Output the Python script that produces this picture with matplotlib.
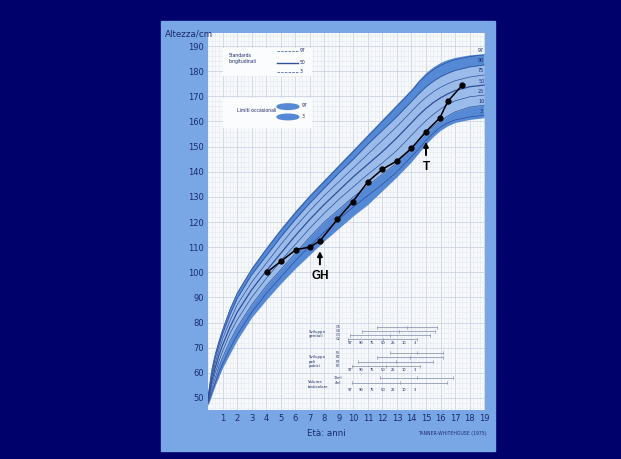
import matplotlib.pyplot as plt
import numpy as np
from matplotlib.patches import Rectangle, Ellipse

# Tanner-Whitehouse longitudinal height standards, boys (cm)
ages = [0.0, 0.25, 0.5, 0.75, 1, 1.5, 2, 3, 4, 5, 6, 7, 8, 9, 10, 11, 12,
        13, 13.5, 14, 14.5, 15, 15.5, 16, 16.5, 17, 18, 19]
occ_hi = [51, 62, 68.5, 73.5, 78, 86, 92.5, 102, 110, 117.5, 124.5, 131, 137,
          143, 149, 155, 161, 167, 170, 173, 176.5, 179.5, 181.8, 183.5,
          184.7, 185.5, 186.5, 187]
p97 = [50.5, 61, 67.5, 72.5, 77, 85, 91.5, 101, 109, 116.5, 123.5, 130, 136,
       142, 148, 154, 160, 166, 169, 172, 175.5, 178.3, 180.6, 182.3, 183.6,
       184.6, 185.8, 186.5]
p90 = [50, 59.5, 66, 71, 75.5, 83, 89.5, 99, 106.5, 114, 121, 127.5, 133.5,
       139.5, 145, 151, 156.5, 162, 165, 168, 171, 173.8, 176, 177.8, 179.2,
       180.3, 181.7, 182.5]
p75 = [49.5, 58, 64, 69, 73.5, 80.5, 87, 96, 103.5, 111, 118, 124.5, 130.5,
       136, 141.5, 147, 152.5, 158, 161, 164, 167, 169.6, 171.8, 173.6, 175,
       176.2, 177.7, 178.5]
p50 = [49, 56.5, 62, 67, 71, 78, 84, 93, 100.5, 107.5, 114.5, 121, 127,
       132.5, 138, 143, 148, 153.5, 156.5, 159.5, 162.5, 165.2, 167.5, 169.4,
       171, 172.3, 173.8, 174.5]
p25 = [48.5, 55, 60, 64.5, 68.5, 75.5, 81, 90, 97.5, 104.5, 111, 117.5, 123.5,
       129, 134, 139, 143.5, 148.5, 151.5, 154.5, 157.5, 160.3, 162.8, 165,
       166.8, 168.2, 169.8, 170.5]
p10 = [48, 53.5, 58, 62.5, 66, 72.5, 78, 87, 94.5, 101, 107.5, 114, 120,
       125, 130, 134.5, 139, 143.5, 146.5, 149.5, 152.5, 155.4, 158, 160.3,
       162.2, 163.8, 165.7, 166.5]
p3 = [47.5, 52, 56, 60, 63.5, 69.5, 75, 84, 91.5, 98, 104.5, 110.5, 116,
      121, 126, 130.5, 135, 140, 143, 146, 149, 152.5, 155.3, 157.8, 159.5,
      160.6, 161.8, 162.5]
occ_lo = [47, 51, 55, 58.5, 62, 67.5, 73, 82, 89, 95.5, 101.5, 107, 112.5,
          117.5, 122.5, 127, 132.5, 138, 141, 144, 147.5, 151, 154, 156.5,
          158.3, 159.6, 160.8, 161.5]
centiles = [('97', p97), ('90', p90), ('75', p75), ('50', p50),
            ('25', p25), ('10', p10), ('3', p3)]

# patient measurements
child_age = [4.05, 5.05, 6.05, 7.0, 7.7, 8.9, 9.95, 11.0, 12.0, 13.0, 14.0,
             15.0, 15.95, 16.5, 17.5]
child_h = [100, 104.5, 109, 110, 112.5, 121, 128, 136, 141, 144.3, 149.3,
           156, 161.4, 168, 174.5]
events = [('GH', 4), ('T', 11)]

# puberty stage bars: (start age, end age)
genitali = [(11.64, 15.75), (10.61, 15.62), (9.79, 15.28), (9.65, 14.39)]
peli = [(12.53, 16.18), (11.64, 16.18), (10.34, 15.49), (9.92, 14.6)]
testicoli = [(11.85, 16.86), (9.92, 16.45)]
centile_row = ['97', '90', '75', '50', '25', '10', '3']

NAVY = '#01016c'
PANEL = '#79a7e6'
DARK = '#5589d6'
LIGHT = '#9bbcea'
LINE = '#2f4f98'
TXT = '#1c2a6c'

fig = plt.figure(figsize=(6.21, 4.59), dpi=100)
fig.patch.set_facecolor(NAVY)
fig.add_artist(Rectangle((161 / 621, 8 / 459), 334 / 621, 430 / 459,
                         transform=fig.transFigure, color=PANEL, zorder=0))

ax = fig.add_axes([208 / 621, 49 / 459, 277 / 621, 377 / 459])
ax.set_facecolor('#f8f9fc')
ax.set_xlim(0.034, 19.06)
ax.set_ylim(45.2, 195.2)
for s in ax.spines.values():
    s.set_visible(False)

ax.set_xticks(range(1, 20))
ax.set_xticks(np.arange(0, 19.1, 0.25), minor=True)
ax.set_yticks(range(50, 191, 10))
ax.set_yticks(range(46, 195, 2), minor=True)
ax.grid(which='minor', color='#e4e8ef', lw=0.4)
ax.grid(which='major', color='#ccd3e0', lw=0.6)
ax.set_axisbelow(True)
ax.tick_params(which='both', length=0, labelsize=6, labelcolor=TXT, pad=3)

# centile bands
ax.fill_between(ages, occ_lo, occ_hi, color=DARK, lw=0, zorder=2)
ax.fill_between(ages, p10, p90, color=LIGHT, lw=0, zorder=2)
for name, vals in centiles:
    lw = 0.9 if name == '50' else 0.5
    ax.plot(ages, vals, color=LINE, lw=lw, zorder=3)
    ax.text(18.8, vals[-1] + 0.6, name, fontsize=3.5, color=TXT,
            ha='center', va='bottom', zorder=4)

# patient curve
ax.plot(child_age, child_h, color='black', lw=1.1, marker='o', ms=3.5, zorder=5)
for label, i in events:
    x, y = child_age[i], child_h[i]
    ax.annotate('', xy=(x, y - 3), xytext=(x, y - 10.5),
                arrowprops=dict(arrowstyle='-|>', color='black', lw=1.4,
                                mutation_scale=7), zorder=5)
    ax.text(x, y - 14, label, fontsize=8.5, fontweight='bold', ha='center',
            va='center', family=['Liberation Sans Narrow', 'Liberation Sans'],
            zorder=5)

# legend boxes
ax.add_patch(Rectangle((1.06, 178.5), 6.05, 10.7, color='#fbfcfe', zorder=4))
ax.text(1.4, 185.2, 'Standards\nlongitudinali', fontsize=3.3, color=TXT,
        va='center', linespacing=1.3, zorder=5)
ax.plot([4.77, 6.22], [188.1, 188.1], color=LINE, lw=0.5, ls='--', zorder=5)
ax.plot([4.77, 6.22], [183.4, 183.4], color=LINE, lw=1.0, zorder=5)
ax.plot([4.77, 6.22], [179.8, 179.8], color=LINE, lw=0.5, ls='--', zorder=5)
for y, s in [(188.1, '97'), (183.4, '50'), (179.8, '3')]:
    ax.text(6.3, y, s, fontsize=3.3, color=TXT, va='center', zorder=5)

ax.add_patch(Rectangle((1.06, 157.8), 6.05, 11.5, color='#fbfcfe', zorder=4))
ax.text(2.0, 164.3, 'Limiti occasionali', fontsize=3.3, color=TXT,
        va='center', zorder=5)
ax.add_patch(Ellipse((5.5, 165.9), 1.5, 2.2, color=DARK, zorder=5))
ax.add_patch(Ellipse((5.5, 161.8), 1.5, 2.2, color=DARK, zorder=5))
ax.text(6.45, 166.2, '97', fontsize=3.3, color=TXT, va='center', zorder=5)
ax.text(6.45, 161.8, '3', fontsize=3.3, color=TXT, va='center', zorder=5)

# puberty stage inset
groups = [('Sviluppo\ngenitali', genitali, 78.2, 71.9, ['G5', 'G4', 'G3', 'G2']),
          ('Sviluppo\npeli\npubici', peli, 67.9, 61.1, ['P5', 'P4', 'P3', 'P2']),
          ('Volume\ntesticolare', testicoli, 58.0, 53.2, ['12ml', '4ml'])]
for title, bars, top, row_y, stages in groups:
    step = (top - row_y - 1.5) / max(len(bars) - 1, 1) if len(bars) > 2 else 2.0
    ax.text(6.9, top - 1.0, title, fontsize=2.8, color=TXT, va='top',
            linespacing=1.1, zorder=5)
    for k, (a0, a1) in enumerate(bars):
        y = top - k * step
        ax.plot([a0, a1], [y, y], color='#7d8aa8', lw=0.5, zorder=5)
        for xa in (a0, (a0 + a1) / 2, a1):
            ax.plot([xa, xa], [y - 0.6, y + 0.6], color='#7d8aa8', lw=0.4, zorder=5)
        ax.text(8.95, y, stages[k], fontsize=2.4, color=TXT, va='center',
                ha='center', zorder=5)
    for k, s in enumerate(centile_row):
        ax.text(9.8 + k * 0.74, row_y, s, fontsize=2.6, color=TXT,
                ha='center', va='center', zorder=5)

fig.text(165 / 621, 1 - 34 / 459, 'Altezza/cm', fontsize=6.3, color=TXT,
         va='center')
fig.text(307 / 621, 1 - 433 / 459, 'Età: anni', fontsize=6.3, color=TXT,
         va='center')
fig.text(487 / 621, 1 - 433 / 459, 'TANNER-WHITEHOUSE (1975)', fontsize=3.3,
         color=TXT, va='center', ha='right')

fig.savefig('out.png', dpi=100, facecolor=NAVY)
